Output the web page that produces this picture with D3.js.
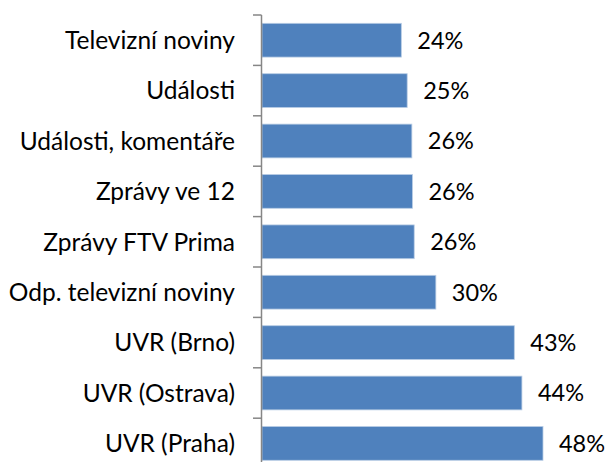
<!DOCTYPE html>
<html lang="cs">
<head>
<meta charset="utf-8">
<script src="https://cdn.jsdelivr.net/npm/d3@7"></script>
<style>
  body { margin: 0; background: #fff; }
  text { font-family: Lato, "Open Sans", sans-serif; font-size: 23.5px; fill: #000; }
</style>
</head>
<body>
<div id="chart"></div>
<script>
// data
var categories = ["Televizní noviny", "Události", "Události, komentáře", "Zprávy ve 12",
                  "Zprávy FTV Prima", "Odp. televizní noviny", "UVR (Brno)", "UVR (Ostrava)", "UVR (Praha)"];
var values = [23.8, 24.8, 25.6, 25.7, 26.0, 29.7, 43.1, 44.4, 48.0];

var width = 607, height = 462;
var axisX = 261;

var svg = d3.select("#chart").append("svg")
    .attr("width", width)
    .attr("height", height);

// y scale: one band per category
var y = d3.scaleBand()
    .domain(categories)
    .range([15, 15 + 50.4 * categories.length])
    .paddingInner(0.33)
    .paddingOuter(0.165);

var x = d3.scaleLinear()
    .domain([0, 50])
    .range([axisX + 1, axisX + 1 + 50 * 5.854]);

var fmt = function(v) { return d3.format(".0f")(v) + "%"; };

// bars
svg.selectAll("rect.bar")
    .data(values)
    .enter()
    .append("rect")
    .attr("class", "bar")
    .attr("x", x(0))
    .attr("y", function(d, i) { return y(categories[i]); })
    .attr("width", function(d) { return x(d) - x(0); })
    .attr("height", y.bandwidth())
    .style("fill", "#4f81bd")
    .style("stroke", "#b9cde5")
    .style("stroke-width", 0.8);

// value labels
svg.selectAll("text.val")
    .data(values)
    .enter()
    .append("text")
    .attr("class", "val")
    .attr("x", function(d) { return x(d) + 16; })
    .attr("y", function(d, i) { return y(categories[i]) + y.bandwidth() / 2; })
    .attr("dy", "0.36em")
    .text(fmt);

// category axis
var axis = d3.axisLeft(y).tickSize(0).tickPadding(26);
var g = svg.append("g")
    .attr("transform", "translate(" + axisX + ",0)")
    .call(axis);
g.select(".domain").remove();
g.selectAll("text")
    .attr("dy", "0.36em")
    .style("font-family", "Lato, 'Open Sans', sans-serif")
    .style("font-size", "24.5px")
    .attr("fill", "#000");

// axis line and tick marks between categories
var step = y.step();
var tickYs = d3.range(categories.length + 1).map(function(i) { return 15 + i * step; });
svg.append("line")
    .attr("x1", axisX + 0.5).attr("x2", axisX + 0.5)
    .attr("y1", tickYs[0]).attr("y2", tickYs[tickYs.length - 1])
    .style("stroke", "#868686").style("stroke-width", 1.5);
svg.selectAll("line.tick")
    .data(tickYs)
    .enter()
    .append("line")
    .attr("class", "tick")
    .attr("x1", axisX - 8).attr("x2", axisX + 0.5)
    .attr("y1", function(d) { return d; }).attr("y2", function(d) { return d; })
    .style("stroke", "#868686").style("stroke-width", 1.5);
</script>
</body>
</html>
